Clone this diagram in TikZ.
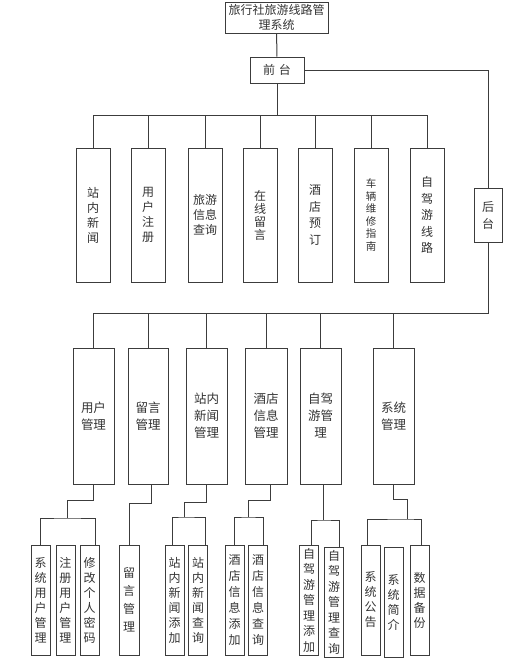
\documentclass[tikz,border=0pt]{standalone}
\usepackage{fontspec}
\newfontfamily\cjk{Noto Sans CJK SC}
\definecolor{linegray}{RGB}{60,60,60}

\begin{document}
\begin{tikzpicture}[x=1pt,y=-1pt,line width=1pt,draw=linegray,
  every node/.style={draw=linegray,line width=1pt,inner sep=0pt,align=center,text=black!80,font=\cjk\fontsize{12}{15}\selectfont},
  fbox/.style={minimum width=34pt,minimum height=134pt},
  bbox/.style={minimum width=41pt,minimum height=136pt,font=\cjk\fontsize{12.5}{17}\selectfont},
  leaf/.style={minimum width=19pt,minimum height=110pt}]
\useasboundingbox (0,0) rectangle (526,665);
% top
\node[minimum width=103pt,minimum height=31pt] (root) at (276.5,17.5) {旅行社旅游线路管\\理系统};
\node[minimum width=54pt,minimum height=26pt] (qt) at (277,70) {前\hspace{4pt}台};
\node[minimum width=28pt,minimum height=54pt,font=\cjk\fontsize{12}{17}\selectfont] (ht) at (488,215) {后\\台};
% front
\node[fbox] (f1) at (93,215) {站\\内\\新\\闻};
\node[fbox] (f2) at (148,215) {用\\户\\注\\册};
\node[fbox] (f3) at (205,215) {旅游\\信息\\查询};
\node[fbox,font=\cjk\fontsize{12}{13}\selectfont] (f4) at (260,215) {在\\线\\留\\言};
\node[fbox,font=\cjk\fontsize{12}{16.5}\selectfont] (f5) at (315,215) {酒\\店\\预\\订};
\node[fbox,font=\cjk\fontsize{10.5}{12.5}\selectfont] (f6) at (371,215) {车\\辆\\维\\修\\指\\南};
\node[fbox,font=\cjk\fontsize{12}{16.5}\selectfont] (f7) at (427,215) {自\\驾\\游\\线\\路};
% back
\node[bbox] (b1) at (93.5,416) {用户\\管理};
\node[bbox,minimum width=40pt] (b2) at (148,416) {留言\\管理};
\node[bbox] (b3) at (206.5,416) {站内\\新闻\\管理};
\node[bbox,minimum width=42pt] (b4) at (266,416) {酒店\\信息\\管理};
\node[bbox] (b5) at (320.5,416) {自驾\\游管\\理};
\node[bbox] (b6) at (393.5,416) {系统\\管理};
% leaves
\node[leaf] (l1) at (40.5,600) {系\\统\\用\\户\\管\\理};
\node[leaf] (l2) at (65.5,600) {注\\册\\用\\户\\管\\理};
\node[leaf] (l3) at (89.5,600) {修\\改\\个\\人\\密\\码};
\node[leaf,minimum width=20pt,font=\cjk\fontsize{12}{18}\selectfont] (l4) at (129,600) {留\\言\\管\\理};
\node[leaf] (l5) at (174.5,600) {站\\内\\新\\闻\\添\\加};
\node[leaf] (l6) at (198,600) {站\\内\\新\\闻\\查\\询};
\node[leaf,font=\cjk\fontsize{12}{16}\selectfont] (l7) at (234.5,600) {酒\\店\\信\\息\\添\\加};
\node[leaf,font=\cjk\fontsize{12}{16}\selectfont] (l8) at (258,600) {酒\\店\\信\\息\\查\\询};
\node[leaf,font=\cjk\fontsize{12}{15.5}\selectfont] (l9) at (309,600) {自\\驾\\游\\管\\理\\添\\加};
\node[leaf,font=\cjk\fontsize{12}{15.5}\selectfont] (l10) at (334,602) {自\\驾\\游\\管\\理\\查\\询};
\node[leaf] (l11) at (370.5,600) {系\\统\\公\\告};
\node[leaf] (l12) at (393.5,602) {系\\统\\简\\介};
\node[leaf] (l13) at (419.5,600) {数\\据\\备\\份};
% connectors
\coordinate (fbus) at (277,115);
\coordinate (bbus) at (488,313);
\draw (root) -- (qt);
\draw (qt) -- (fbus);
\draw (f1.north |- fbus) -- (f7.north |- fbus);
\foreach \n in {1,...,7} \draw (f\n.north) -- (f\n.north |- fbus);
\draw (qt.east) -| (ht.north);
\draw (ht.south) -- (bbus) -- (b1.north |- bbus);
\foreach \n in {1,...,6} \draw (b\n.north) -- (b\n.north |- bbus);
\coordinate (j1) at (67,518);
\coordinate (j3) at (184,517);
\coordinate (j4) at (248,517);
\coordinate (j5) at (323,520);
\coordinate (j6) at (407,519);
\draw (b1.south) -- ++(0,16) -| (j1);
\draw (l1.north) |- (j1) -| ([xshift=5.5pt]l3.north);
\draw ([xshift=3pt]b2.south) -- ++(0,19) -| (l4.north);
\draw (b3.south) -- ++(0,18) -| (j3);
\draw ([xshift=-2.5pt]l5.north) |- (j3) -| ([xshift=7pt]l6.north);
\draw ([xshift=4pt]b4.south) -- ++(0,16) -| (j4);
\draw (l7.north) |- (j4) -| ([xshift=5pt]l8.north);
\draw ([xshift=2.5pt]b5.south) -- (j5);
\draw ([xshift=2pt]l9.north) |- (j5) -| ([xshift=5pt]l10.north);
\draw (b6.south) -- ++(0,15) -| (j6);
\draw ([xshift=-3.5pt]l11.north) |- (j6) -| ([xshift=1.5pt]l13.north);
\end{tikzpicture}
\end{document}
